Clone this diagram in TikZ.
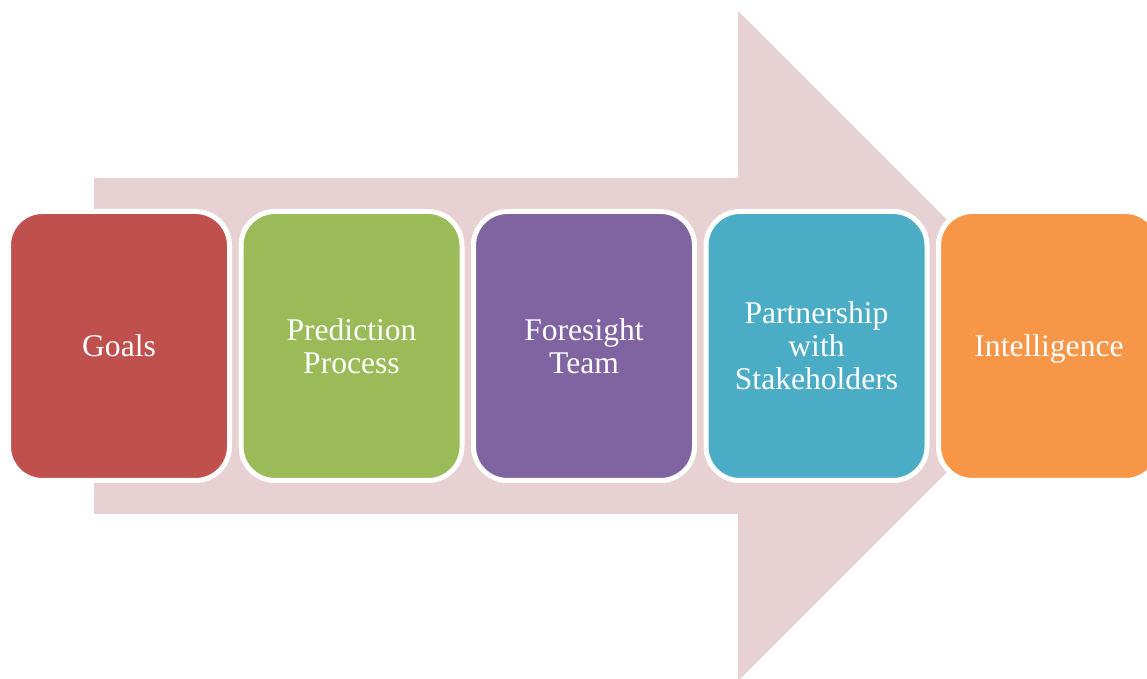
\documentclass[tikz,border=0pt]{standalone}
\usepackage{fontspec}
\setmainfont{Liberation Serif}
\definecolor{arrowpink}{HTML}{E8D1D2}
\definecolor{cgoal}{HTML}{C0504D}
\definecolor{cpred}{HTML}{9BBB59}
\definecolor{cfore}{HTML}{8064A2}
\definecolor{cpart}{HTML}{4BACC6}
\definecolor{cintel}{HTML}{F79646}
\tikzset{
  stepbox/.style={rectangle, rounded corners=34pt, draw=white, line width=5pt,
    minimum width=221pt, minimum height=269pt, text=white, align=center,
    font=\fontsize{31.6}{33}\selectfont, inner sep=0pt}
}
\begin{document}
\begin{tikzpicture}[x=1pt,y=1pt]
\useasboundingbox (0,0) rectangle (1147,679);
\clip (0,0) rectangle (1147,679);
% big arrow (y flipped: y' = 679 - y)
\fill[arrowpink] (94,501) -- (738,501) -- (738,668) -- (1073,333) -- (738,-2) -- (738,165) -- (94,165) -- cycle;
\node[stepbox, fill=cgoal] (goals) at (119,333) {Goals};
\node[stepbox, fill=cpred] (pred) at (351.5,333) {Prediction\\Process};
\node[stepbox, fill=cfore] (fore) at (584,333) {Foresight\\Team};
\node[stepbox, fill=cpart] (part) at (816.5,333) {Partnership\\with\\Stakeholders};
\node[stepbox, fill=cintel] (intel) at (1049,333) {\raisebox{0pt}[\height][0pt]{Intelligence}};
\end{tikzpicture}
\end{document}
